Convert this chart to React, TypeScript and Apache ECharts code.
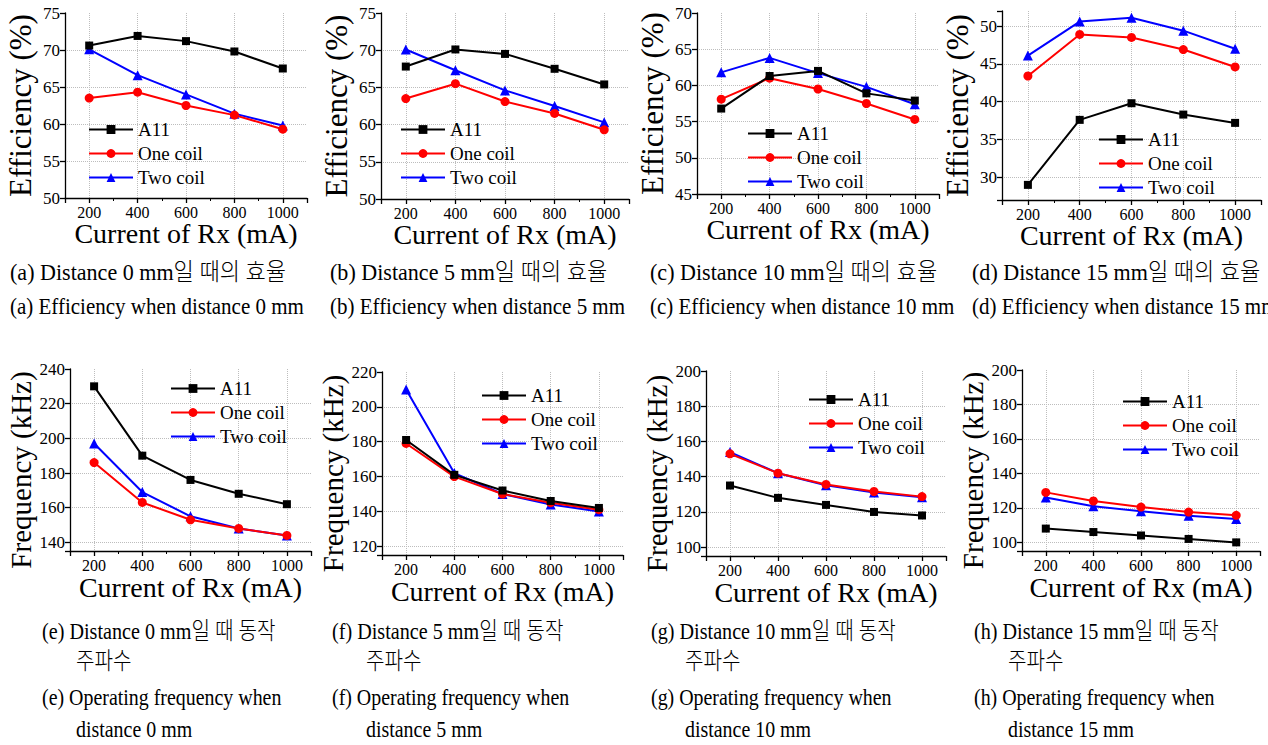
import React, { useEffect, useRef } from 'react';
import * as echarts from 'echarts';

// Receiver current levels (mA)
const currents = [200, 400, 600, 800, 1000];
const seriesNames = ['A11', 'One coil', 'Two coil'];

// Efficiency (%) at each coil distance
const eff0A11 = [70.6, 71.9, 71.2, 69.8, 67.5];
const eff0One = [63.5, 64.3, 62.5, 61.2, 59.3];
const eff0Two = [70.1, 66.6, 64.0, 61.4, 59.8];

const eff5A11 = [67.8, 70.1, 69.5, 67.5, 65.4];
const eff5One = [63.5, 65.5, 63.1, 61.5, 59.3];
const eff5Two = [70.1, 67.3, 64.6, 62.5, 60.3];

const eff10A11 = [56.8, 61.3, 62.0, 58.9, 57.9];
const eff10One = [58.1, 61.0, 59.5, 57.5, 55.3];
const eff10Two = [61.8, 63.8, 61.7, 59.8, 57.4];

const eff15A11 = [29.0, 37.6, 39.8, 38.3, 37.2];
const eff15One = [43.4, 48.9, 48.5, 46.9, 44.6];
const eff15Two = [46.1, 50.6, 51.1, 49.4, 47.0];

// Operating frequency (kHz) at each coil distance
const freq0A11 = [230, 190, 176, 168, 162];
const freq0One = [186, 163, 153, 148, 144];
const freq0Two = [197, 169, 155, 148, 144];

const freq5A11 = [181, 161, 152, 146, 142];
const freq5One = [179, 160, 150, 145, 141];
const freq5Two = [210, 162, 150, 144, 140];

const freq10A11 = [135, 128, 124, 120, 118];
const freq10One = [153, 142, 135.6, 131.6, 128.7];
const freq10Two = [154, 142, 135.2, 131.1, 128.3];

const freq15A11 = [108, 106, 104, 102, 100];
const freq15One = [129, 124, 120.5, 117.6, 115.7];
const freq15Two = [126, 121, 118, 115.5, 113.5];

const SERIF = "'Liberation Serif', 'Times New Roman', 'Noto Sans CJK KR', serif";

// caption line: [y, text, indented, horizontal scale]
type CaptionLine = [number, string, boolean, number];

type Panel = {
  grid: [number, number, number, number];
  yMin: number;
  yMax: number;
  yStep: number;
  yName: string;
  yNameSize: number;
  yGap: number;
  yShift: number;
  xGap: number;
  values: number[][];
  legend: [number, number];
  caption: { x: number; indent: number; lines: CaptionLine[] };
};

const panels: Panel[] = [
  {
    grid: [65, 13, 242, 185], yMin: 50, yMax: 75, yStep: 5, yName: 'Efficiency (%)', yNameSize: 31, yGap: 29, yShift: 0, xGap: 21,
    values: [eff0A11, eff0One, eff0Two], legend: [88, 120],
    caption: { x: 10, indent: 0, lines: [[272, '(a) Distance 0 mm일 때의 효율', false, 0.92], [306, '(a) Efficiency when distance 0 mm', false, 0.875]] },
  },
  {
    grid: [381, 13, 248, 186], yMin: 50, yMax: 75, yStep: 5, yName: 'Efficiency (%)', yNameSize: 31, yGap: 29, yShift: 0, xGap: 21,
    values: [eff5A11, eff5One, eff5Two], legend: [400, 120],
    caption: { x: 330, indent: 0, lines: [[272, '(b) Distance 5 mm일 때의 효율', false, 0.92], [306, '(b) Efficiency when distance 5 mm', false, 0.875]] },
  },
  {
    grid: [697, 13, 242, 181], yMin: 45, yMax: 70, yStep: 5, yName: 'Efficiency (%)', yNameSize: 31, yGap: 29, yShift: 0, xGap: 21,
    values: [eff10A11, eff10One, eff10Two], legend: [747, 124],
    caption: { x: 650, indent: 0, lines: [[272, '(c) Distance 10 mm일 때의 효율', false, 0.92], [306, '(c) Efficiency when distance 10 mm', false, 0.875]] },
  },
  {
    grid: [1002, 11, 259, 189], yMin: 27, yMax: 52, yStep: 5, yName: 'Efficiency (%)', yNameSize: 31, yGap: 29, yShift: 0, xGap: 21,
    values: [eff15A11, eff15One, eff15Two], legend: [1098, 130],
    caption: { x: 972, indent: 0, lines: [[272, '(d) Distance 15 mm일 때의 효율', false, 0.92], [306, '(d) Efficiency when distance 15 mm', false, 0.875]] },
  },
  {
    grid: [70, 369, 241, 182], yMin: 135, yMax: 240, yStep: 20, yName: 'Frequency (kHz)', yNameSize: 29, yGap: 35, yShift: 20, xGap: 22,
    values: [freq0A11, freq0One, freq0Two], legend: [170, 379],
    caption: { x: 42, indent: 34, lines: [[631, '(e) Distance 0 mm일 때 동작', false, 0.84], [661, '주파수', true, 0.84], [697, '(e) Operating frequency when', false, 0.83], [729, 'distance 0 mm', true, 0.83]] },
  },
  {
    grid: [382, 372, 241, 183], yMin: 115, yMax: 220, yStep: 20, yName: 'Frequency (kHz)', yNameSize: 29, yGap: 35, yShift: 20, xGap: 22,
    values: [freq5A11, freq5One, freq5Two], legend: [481, 386],
    caption: { x: 332, indent: 34, lines: [[631, '(f) Distance 5 mm일 때 동작', false, 0.84], [661, '주파수', true, 0.84], [697, '(f) Operating frequency when', false, 0.83], [729, 'distance 5 mm', true, 0.83]] },
  },
  {
    grid: [706, 371, 240, 185], yMin: 95, yMax: 200, yStep: 20, yName: 'Frequency (kHz)', yNameSize: 29, yGap: 35, yShift: 20, xGap: 22,
    values: [freq10A11, freq10One, freq10Two], legend: [808, 390],
    caption: { x: 651, indent: 34, lines: [[631, '(g) Distance 10 mm일 때 동작', false, 0.84], [661, '주파수', true, 0.84], [697, '(g) Operating frequency when', false, 0.83], [729, 'distance 10 mm', true, 0.83]] },
  },
  {
    grid: [1022, 370, 238, 181], yMin: 95, yMax: 200, yStep: 20, yName: 'Frequency (kHz)', yNameSize: 29, yGap: 35, yShift: 20, xGap: 22,
    values: [freq15A11, freq15One, freq15Two], legend: [1122, 392],
    caption: { x: 974, indent: 34, lines: [[631, '(h) Distance 15 mm일 때 동작', false, 0.84], [661, '주파수', true, 0.84], [697, '(h) Operating frequency when', false, 0.83], [729, 'distance 15 mm', true, 0.83]] },
  },
];

const lineColors = ['#000000', '#ff0000', '#0000ff'];
const symbols = ['rect', 'circle', 'triangle'];
const symbolSizes = [8, 9, 10];

function buildOption() {
  const axisLineStyle = { color: '#000', width: 1.3 };
  const gridLine = { show: true, lineStyle: { type: 'dotted', color: '#bdbdbd', width: 1 } };

  const grid = panels.map((p) => ({
    left: p.grid[0], top: p.grid[1], width: p.grid[2], height: p.grid[3],
    containLabel: false, outerBoundsMode: 'none',
  }));

  const xAxis = panels.map((p, i) => ({
    type: 'value', gridIndex: i, min: 100, max: 1100, splitNumber: 5,
    name: 'Current of Rx (mA)', nameLocation: 'middle', nameGap: p.xGap, nameMoveOverlap: false,
    nameTextStyle: { fontFamily: SERIF, fontSize: 28, color: '#000' },
    axisLine: { show: true, onZero: false, lineStyle: axisLineStyle },
    axisTick: { show: true, inside: false, length: 5, lineStyle: axisLineStyle },
    minorTick: { show: true, splitNumber: 2, length: 3, lineStyle: { color: '#000', width: 1 } },
    axisLabel: {
      fontFamily: SERIF, fontSize: 16, color: '#000', margin: 6,
      formatter: (v: number) => (v % 200 === 0 ? String(v) : ''),
    },
    splitLine: { ...gridLine, showMinLine: false, showMaxLine: false },
  }));

  const yAxis = panels.map((p, i) => ({
    type: 'value', gridIndex: i, min: p.yMin, max: p.yMax,
    ...(p.yMin % p.yStep === 0 ? { interval: p.yStep } : { splitNumber: 5 }),
    name: p.yName, nameLocation: 'middle', nameGap: p.yGap, nameRotate: 90, nameMoveOverlap: false,
    nameTextStyle: {
      fontFamily: SERIF, fontSize: p.yNameSize, color: '#000',
      padding: [0, p.yShift, 0, 0],
    },
    axisLine: { show: true, onZero: false, lineStyle: axisLineStyle },
    axisTick: { show: true, inside: false, length: 5, lineStyle: axisLineStyle },
    axisLabel: {
      fontFamily: SERIF, fontSize: 17, color: '#000', margin: 5,
      formatter: (v: number) => (Math.abs(v % p.yStep) < 1e-6 ? String(v) : ''),
    },
    splitLine: { ...gridLine, showMinLine: false, showMaxLine: false },
  }));

  const series: any[] = [];
  panels.forEach((p, i) => {
    p.values.forEach((vals, k) => {
      series.push({
        type: 'line', name: seriesNames[k], xAxisIndex: i, yAxisIndex: i,
        data: currents.map((c, j) => [c, vals[j]]),
        symbol: symbols[k], symbolSize: symbolSizes[k],
        lineStyle: { color: lineColors[k], width: 2 },
        itemStyle: { color: lineColors[k] },
        z: 5 - k,
      });
    });
  });

  const legend = panels.map((p) => ({
    orient: 'vertical', left: p.legend[0], top: p.legend[1], padding: 0,
    itemWidth: 44, itemHeight: 11, itemGap: 5, selectedMode: false,
    textStyle: { fontFamily: SERIF, fontSize: 19, color: '#000' },
    data: seriesNames,
  }));

  const graphic: any[] = [];
  panels.forEach((p) => {
    p.caption.lines.forEach(([y, text, indented, sx]) => {
      graphic.push({
        type: 'text', x: p.caption.x + (indented ? p.caption.indent : 0), y, scaleX: sx,
        style: {
          text, fontFamily: SERIF, fontSize: 24, fontWeight: 300, fill: '#000',
          align: 'left', verticalAlign: 'middle',
        },
      });
    });
  });

  return {
    animation: false,
    backgroundColor: '#ffffff',
    grid, xAxis, yAxis, series, legend, graphic,
    tooltip: { show: false },
  };
}

export default function App() {
  const ref = useRef<HTMLDivElement>(null);
  useEffect(() => {
    if (!ref.current) return;
    const chart = echarts.init(ref.current, undefined, { renderer: 'svg' });
    chart.setOption(buildOption() as any);
    return () => chart.dispose();
  }, []);
  return (
    <div
      ref={ref}
      style={{ position: 'absolute', left: 0, top: 0, width: 1268, height: 745, background: '#fff' }}
    />
  );
}
